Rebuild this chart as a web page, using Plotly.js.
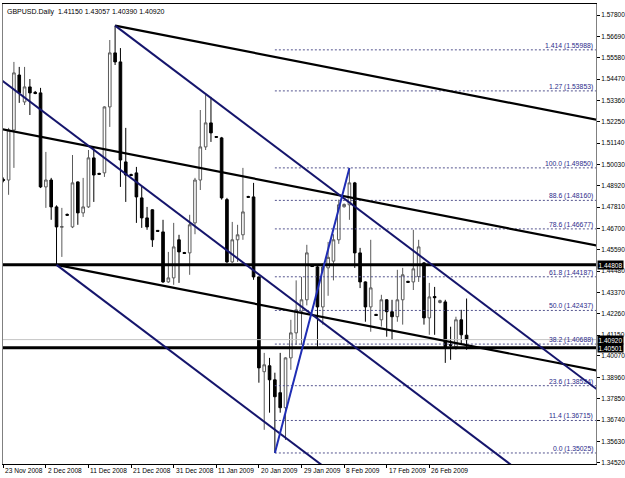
<!DOCTYPE html>
<html><head><meta charset="utf-8">
<script src="https://cdn.plot.ly/plotly-3.0.1.min.js"></script>
<style>html,body{margin:0;padding:0;background:#fff;}#chart{width:625px;height:478px;}</style>
</head><body><div id="chart"></div>
<script>
// ---- data ----
const dates = ["23 Nov 2008","24 Nov 2008","25 Nov 2008","26 Nov 2008","27 Nov 2008","28 Nov 2008","30 Nov 2008",
"1 Dec 2008","2 Dec 2008","3 Dec 2008","4 Dec 2008","5 Dec 2008","7 Dec 2008","8 Dec 2008","9 Dec 2008","10 Dec 2008",
"11 Dec 2008","12 Dec 2008","14 Dec 2008","15 Dec 2008","16 Dec 2008","17 Dec 2008","18 Dec 2008","19 Dec 2008",
"21 Dec 2008","22 Dec 2008","23 Dec 2008","24 Dec 2008","26 Dec 2008","28 Dec 2008","29 Dec 2008","30 Dec 2008",
"31 Dec 2008","2 Jan 2009","4 Jan 2009","5 Jan 2009","6 Jan 2009","7 Jan 2009","8 Jan 2009","9 Jan 2009",
"11 Jan 2009","12 Jan 2009","13 Jan 2009","14 Jan 2009","15 Jan 2009","16 Jan 2009","18 Jan 2009","19 Jan 2009",
"20 Jan 2009","21 Jan 2009","22 Jan 2009","23 Jan 2009","25 Jan 2009","26 Jan 2009","27 Jan 2009","28 Jan 2009",
"29 Jan 2009","30 Jan 2009","1 Feb 2009","2 Feb 2009","3 Feb 2009","4 Feb 2009","5 Feb 2009","6 Feb 2009",
"8 Feb 2009","9 Feb 2009","10 Feb 2009","11 Feb 2009","12 Feb 2009","13 Feb 2009","15 Feb 2009","16 Feb 2009",
"17 Feb 2009","18 Feb 2009","19 Feb 2009","20 Feb 2009","22 Feb 2009","23 Feb 2009","24 Feb 2009","25 Feb 2009",
"26 Feb 2009","27 Feb 2009","1 Mar 2009","2 Mar 2009","3 Mar 2009","4 Mar 2009","5 Mar 2009","6 Mar 2009"];

const openP = [1.4925,1.4922,1.5182,1.5468,1.5328,1.5406,1.5378,1.5375,1.4886,1.4922,1.4782,1.4676,1.4743,1.4678,1.4912,1.4751,
1.4782,1.5037,1.4956,1.4959,1.5302,1.5583,1.5536,1.5016,1.4950,1.4959,1.4829,1.4725,1.4767,1.4660,1.4652,1.4392,
1.4413,1.4611,1.4545,1.4543,1.4699,1.4922,1.5094,1.5219,1.5148,1.5141,1.4820,1.4496,1.4611,1.4637,1.4836,1.4834,
1.4418,1.3925,1.3956,1.3883,1.3816,1.3738,1.3997,1.4127,1.4240,1.4299,1.4478,1.4470,1.4262,1.4465,1.4500,1.4611,
1.4783,1.4793,1.4907,1.4543,1.4392,1.4262,1.4223,1.4195,1.4299,1.4237,1.4211,1.4299,1.4395,1.4392,1.4420,1.4491,
1.4205,1.4316,1.4285,1.4288,1.4067,1.4055,1.4195,1.41150];
const highP = [1.4935,1.5193,1.5536,1.5510,1.5510,1.5447,1.5385,1.5401,1.5068,1.4933,1.4790,1.4777,1.4748,1.5052,1.4915,1.4933,
1.5078,1.5089,1.4960,1.5305,1.5650,1.5725,1.5608,1.5193,1.4955,1.4990,1.4886,1.4782,1.4770,1.4662,1.4715,1.4548,
1.4699,1.4637,1.4548,1.4741,1.4933,1.5286,1.5364,1.5354,1.5150,1.5146,1.4829,1.4704,1.4689,1.4985,1.4840,1.4907,
1.4420,1.4023,1.3997,1.3920,1.4023,1.4000,1.4195,1.4400,1.4418,1.4585,1.4482,1.4481,1.4490,1.4600,1.4640,1.4820,
1.4800,1.49850,1.4912,1.4569,1.4395,1.4611,1.4226,1.4325,1.4302,1.4299,1.4455,1.4465,1.4398,1.4663,1.4611,1.4495,
1.4387,1.4366,1.4300,1.4299,1.4159,1.4211,1.4247,1.43057];
const lowP = [1.4910,1.4845,1.4985,1.5323,1.5312,1.5260,1.5368,1.4880,1.4777,1.4715,1.44808,1.4522,1.4735,1.4672,1.4689,1.4730,
1.4777,1.4808,1.4950,1.4938,1.5198,1.5520,1.4886,1.4808,1.4942,1.4699,1.4673,1.4663,1.4574,1.4652,1.4387,1.4387,
1.4377,1.4387,1.4538,1.4429,1.4640,1.4870,1.5078,1.5120,1.5142,1.4820,1.4491,1.4491,1.4496,1.4611,1.4830,1.4403,
1.3868,1.3623,1.3712,1.35025,1.3712,1.3570,1.3935,1.4065,1.4065,1.4270,1.4470,1.4055,1.4170,1.4320,1.4400,1.4590,
1.4778,1.4715,1.4465,1.4360,1.4185,1.4133,1.4215,1.4160,1.4107,1.4091,1.4185,1.4170,1.4388,1.4350,1.4392,1.4170,
1.4117,1.4117,1.4280,1.3971,1.3987,1.4039,1.4065,1.40390];
const closeP = [1.4920,1.5182,1.5479,1.5375,1.5406,1.5375,1.5372,1.4886,1.4922,1.4782,1.4678,1.4680,1.4739,1.4907,1.4751,1.4782,
1.5037,1.4948,1.4952,1.5302,1.5583,1.5536,1.5026,1.4948,1.4946,1.4834,1.4725,1.4678,1.4611,1.4655,1.4392,1.4413,
1.4574,1.4548,1.4540,1.4689,1.4922,1.5094,1.5219,1.5167,1.5144,1.4829,1.4496,1.4611,1.4637,1.4756,1.4832,1.4418,
1.3945,1.3961,1.3883,1.3795,1.3738,1.3997,1.4127,1.4247,1.4299,1.4543,1.4472,1.4262,1.4470,1.4520,1.4611,1.4793,
1.4795,1.4907,1.4543,1.4392,1.4262,1.4361,1.4218,1.4299,1.4237,1.4211,1.4299,1.4429,1.4390,1.4460,1.4574,1.4205,
1.4314,1.4310,1.4295,1.4055,1.4062,1.4195,1.4117,1.40920];

const dateTickIndex = [0,8,16,24,32,40,48,56,64,72,80];
const priceTicks = [1.57800,1.56690,1.55580,1.54470,1.53360,1.52250,1.51140,1.50030,1.48920,1.47810,1.46700,
1.45590,1.44480,1.43370,1.42260,1.41150,1.40070,1.38960,1.37850,1.36740,1.35630,1.34520];

// Fibonacci retracement (bar index / price anchors) and its levels
const fibFrom = [51, 1.35025];
const fibTo = [65, 1.49850];
const fibLabels = ["0.0","11.4","23.6","38.2","50.0","61.8","78.6","88.6","100.0","1.27","1.414"];
const fibPrices = [1.35025,1.36715,1.38524,1.40688,1.42437,1.44187,1.46677,1.48160,1.49850,1.53853,1.55988];

// drawn trend lines: [barFrom, priceFrom, barTo, priceTo]
const navyLines = [[21,1.5725,111.4,1.3835],[-1,1.5455,96,1.3427],[10,1.44808,62,1.3394]];
const blackLines = [[21,1.5725,111.4,1.5235],[-1,1.5190,111.4,1.4581],[10,1.44808,111.4,1.3931]];
const horizLines = [1.44808, 1.40501];
const bidPrice = 1.40920;
const symbol = "GBPUSD.Daily";

// ---- chart ----
const X0 = -0.05, X1 = 111.3;
const idx = dates.map((d,i)=>i);
const FONT = 'Liberation Sans, Arial, sans-serif';
const traces = [];
traces.push({type:'candlestick', x:idx, open:openP, high:highP, low:lowP, close:closeP,
  increasing:{line:{color:'#5a5a5a',width:1}, fillcolor:'#ffffff'},
  decreasing:{line:{color:'#000000',width:1}, fillcolor:'#000000'},
  whiskerwidth:0, hoverinfo:'none', showlegend:false});
function seg(x1,y1,x2,y2,color,width,dash){
  traces.push({type:'scatter',mode:'lines',x:[x1,x2],y:[y1,y2],
    line:{color:color,width:width,dash:dash||'solid'},hoverinfo:'none',showlegend:false});
}
seg(X0-1,bidPrice,X1+1,bidPrice,'#c4c4c4',1);
fibPrices.forEach(p=>seg(fibFrom[0],p,X1+1,p,'#55558f',1,'2px,2px'));
horizLines.forEach(p=>seg(X0-1,p,X1+1,p,'#000000',3));
blackLines.forEach(l=>seg(l[0],l[1],l[2],l[3],'#000000',2.2));
navyLines.forEach(l=>seg(l[0],l[1],l[2],l[3],'#15156c',2));
seg(fibFrom[0],fibFrom[1],fibTo[0],fibTo[1],'#1f2db4',2);

const ann = [];
fibPrices.forEach((p,i)=>ann.push({xref:'paper',yref:'y',x:1,y:p,xanchor:'right',yanchor:'bottom',xshift:-1,yshift:-2,
  text:fibLabels[i]+' ('+p.toFixed(5)+')',showarrow:false,font:{family:FONT,size:6.8,color:'#2a2a8a'}}));
[horizLines[0], bidPrice, horizLines[1]].forEach(p=>ann.push({xref:'paper',yref:'y',x:1,y:p,xanchor:'left',yanchor:'middle',xshift:1,
  text:p.toFixed(5),showarrow:false,bgcolor:'#000000',borderpad:0.5,font:{family:FONT,size:6.5,color:'#ffffff'}}));
dateTickIndex.forEach(i=>ann.push({xref:'x',yref:'paper',x:i,y:0,xanchor:'left',yanchor:'top',yshift:-1,xshift:0,
  text:dates[i],showarrow:false,font:{family:FONT,size:6.6,color:'#000'}}));
const last = closeP.length-1;
ann.push({xref:'paper',yref:'paper',x:0,y:1,xanchor:'left',yanchor:'top',xshift:2,yshift:-2,showarrow:false,
  text:symbol+'\u00a0\u00a0'+[openP[last],highP[last],lowP[last],closeP[last]].map(v=>v.toFixed(5)).join(' '),
  font:{family:FONT,size:7,color:'#000'}});

const layout = {
  width:625,height:478,margin:{l:3,r:29,t:4,b:14},
  paper_bgcolor:'#ffffff',plot_bgcolor:'#ffffff',showlegend:false,
  boxgap:0.3,
  xaxis:{range:[X0,X1],showgrid:false,zeroline:false,rangeslider:{visible:false},
    tickmode:'array',tickvals:dateTickIndex,showticklabels:false,
    ticks:'outside',ticklen:3,tickcolor:'#000',
    showline:true,linecolor:'#000',linewidth:1,mirror:true,fixedrange:true},
  yaxis:{side:'right',range:[1.34452,1.58372],showgrid:false,zeroline:false,
    tickmode:'array',tickvals:priceTicks,ticktext:priceTicks.map(v=>v.toFixed(5)),
    ticks:'outside',ticklen:3,tickcolor:'#000',tickfont:{family:FONT,size:6.5,color:'#000'},
    showline:true,linecolor:'#808080',linewidth:1,mirror:true,fixedrange:true},
  annotations:ann,
  shapes:[{type:'rect',xref:'paper',yref:'paper',x0:-0.01,x1:1.06,y0:-0.0305,y1:-0.06,fillcolor:'#d8dfe9',line:{width:0},layer:'below'}]
};
Plotly.newPlot('chart',traces,layout,{staticPlot:true,displayModeBar:false});
</script></body></html>
